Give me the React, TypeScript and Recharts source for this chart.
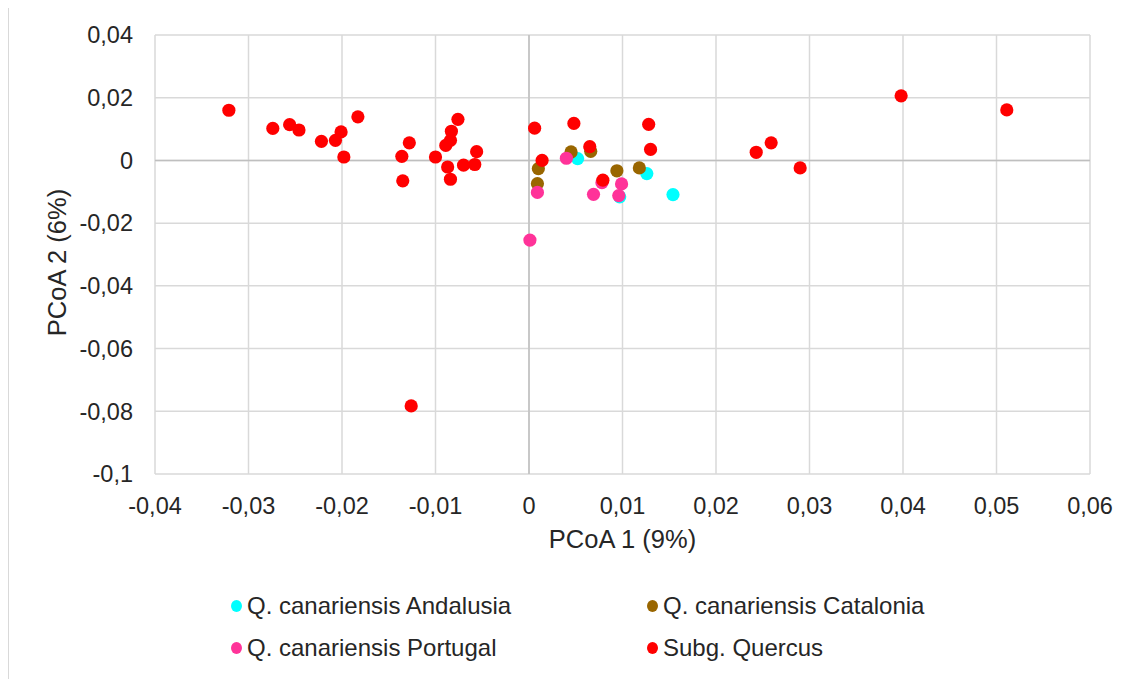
import {
  ScatterChart,
  Scatter,
  XAxis,
  YAxis,
  CartesianGrid,
  ReferenceLine,
  Legend
} from "recharts"

// PCoA coordinates
const andalusia = [
  { x: 0.0052, y: 0.0006 },
  { x: 0.0126, y: -0.0042 },
  { x: 0.0154, y: -0.0109 },
  { x: 0.0097, y: -0.0116 }
]

const catalonia = [
  { x: 0.0045, y: 0.0027 },
  { x: 0.0066, y: 0.0029 },
  { x: 0.001, y: -0.0026 },
  { x: 0.0009, y: -0.0074 },
  { x: 0.0094, y: -0.0033 },
  { x: 0.0118, y: -0.0024 }
]

const portugal = [
  { x: 0.004, y: 0.0007 },
  { x: 0.0009, y: -0.0102 },
  { x: 0.0069, y: -0.0108 },
  { x: 0.0099, y: -0.0075 },
  { x: 0.0096, y: -0.0112 },
  { x: 0.0001, y: -0.0254 },
  { x: 0.0078, y: -0.0071 }
]

const quercus = [
  { x: -0.0321, y: 0.016 },
  { x: -0.0274, y: 0.0102 },
  { x: -0.0256, y: 0.0114 },
  { x: -0.0246, y: 0.0097 },
  { x: -0.0222, y: 0.0061 },
  { x: -0.0207, y: 0.0064 },
  { x: -0.0201, y: 0.0091 },
  { x: -0.0198, y: 0.0011 },
  { x: -0.0183, y: 0.0139 },
  { x: -0.0136, y: 0.0013 },
  { x: -0.0135, y: -0.0065 },
  { x: -0.0128, y: 0.0056 },
  { x: -0.0126, y: -0.0783 },
  { x: -0.01, y: 0.0011 },
  { x: -0.0089, y: 0.0048 },
  { x: -0.0084, y: 0.0064 },
  { x: -0.0083, y: 0.0093 },
  { x: -0.0076, y: 0.0131 },
  { x: -0.0087, y: -0.0021 },
  { x: -0.0084, y: -0.006 },
  { x: -0.007, y: -0.0015 },
  { x: -0.0058, y: -0.0013 },
  { x: -0.0056, y: 0.0028 },
  { x: 0.0006, y: 0.0103 },
  { x: 0.0014, y: 0.0 },
  { x: 0.0048, y: 0.0118 },
  { x: 0.0065, y: 0.0044 },
  { x: 0.0079, y: -0.0063 },
  { x: 0.0128, y: 0.0115 },
  { x: 0.013, y: 0.0035 },
  { x: 0.0243, y: 0.0026 },
  { x: 0.0259, y: 0.0056 },
  { x: 0.029, y: -0.0024 },
  { x: 0.0398, y: 0.0206 },
  { x: 0.0511, y: 0.0161 }
]

const seriesNames = [
  "Q. canariensis Andalusia",
  "Q. canariensis Catalonia",
  "Q. canariensis Portugal",
  "Subg. Quercus"
]
const seriesColors = ["#00FFFF", "#996600", "#FF3399", "#FF0000"]
const seriesData = [andalusia, catalonia, portugal, quercus]

const xTicks = [-0.04, -0.03, -0.02, -0.01, 0, 0.01, 0.02, 0.03, 0.04, 0.05, 0.06]
const yTicks = [-0.1, -0.08, -0.06, -0.04, -0.02, 0, 0.02, 0.04]

const FONT = "'Liberation Sans', Arial, sans-serif"
const TEXT = "#262626"

// decimal comma, like the original spreadsheet
const fmt = (v: number) => (v === 0 ? "0" : String(+v.toFixed(2)).replace(".", ","))

const Dot = (props: any) => {
  const { cx, cy, fill } = props
  if (cx == null || cy == null) return null
  return <circle cx={cx} cy={cy} r={6.6} fill={fill} />
}

// two-column legend under the plot
const LegendBox = () => {
  const colX = [228, 644]
  const rowY = [599, 641]
  return (
    <div style={{ position: "relative", width: 1126, height: 672 }}>
      {seriesNames.map((name, i) => (
        <div
          key={name}
          style={{
            position: "absolute",
            left: colX[i % 2] - 6,
            top: rowY[Math.floor(i / 2)] - 14,
            height: 28,
            display: "flex",
            alignItems: "center",
            fontFamily: FONT,
            fontSize: 24,
            color: TEXT,
            whiteSpace: "nowrap"
          }}
        >
          <span
            style={{
              display: "inline-block",
              width: 11,
              height: 12,
              borderRadius: "50%",
              background: seriesColors[i],
              marginRight: 5
            }}
          />
          {name}
        </div>
      ))}
    </div>
  )
}

export default function App() {
  return (
    <div
      style={{
        marginTop: -2,
        borderLeft: "1px solid #d9d9d9",
        borderTop: "1px solid #d9d9d9",
        width: 1126,
        height: 672,
        background: "#fff"
      }}
    >
      <ScatterChart
        width={1126}
        height={672}
        margin={{ top: 28, right: 45, bottom: 125, left: 0 }}
        style={{ fontFamily: FONT }}
      >
        <CartesianGrid stroke="#d9d9d9" strokeWidth={1.5} />
        <XAxis
          type="number"
          dataKey="x"
          domain={[-0.04, 0.06]}
          ticks={xTicks}
          tickFormatter={fmt}
          axisLine={false}
          tickLine={false}
          tickSize={0}
          tickMargin={23}
          height={80}
          allowDataOverflow
          tick={{ fill: TEXT, fontSize: 23.5, fontFamily: FONT }}
          label={{
            value: "PCoA 1 (9%)",
            position: "insideBottom",
            offset: 6,
            fill: TEXT,
            fontSize: 25.5,
            fontFamily: FONT
          }}
        />
        <YAxis
          type="number"
          dataKey="y"
          domain={[-0.1, 0.04]}
          ticks={yTicks}
          tickFormatter={fmt}
          axisLine={false}
          tickLine={false}
          tickSize={0}
          tickMargin={22}
          width={146}
          allowDataOverflow
          tick={{ fill: TEXT, fontSize: 23.5, fontFamily: FONT }}
          label={{
            content: (p: any) => {
              const vb = p.viewBox || {}
              const cy = vb.y + vb.height / 2 + 8
              return (
                <text
                  x={48}
                  y={cy}
                  transform={`rotate(-90 48 ${cy})`}
                  textAnchor="middle"
                  dominantBaseline="central"
                  fill={TEXT}
                  fontSize={25.5}
                  fontFamily={FONT}
                >
                  PCoA 2 (6%)
                </text>
              )
            }
          }}
        />
        <ReferenceLine x={0} stroke="#bfbfbf" strokeWidth={1.5} />
        <ReferenceLine y={0} stroke="#bfbfbf" strokeWidth={1.5} />
        {seriesData.map((d, i) => (
          <Scatter
            key={seriesNames[i]}
            name={seriesNames[i]}
            data={d}
            fill={seriesColors[i]}
            shape={Dot}
            isAnimationActive={false}
          />
        ))}
        <Legend
          layout="horizontal"
          verticalAlign="middle"
          align="center"
          content={() => <LegendBox />}
          wrapperStyle={{ left: 0, top: 0, width: 1126, height: 672, pointerEvents: "none" }}
        />
      </ScatterChart>
    </div>
  )
}
